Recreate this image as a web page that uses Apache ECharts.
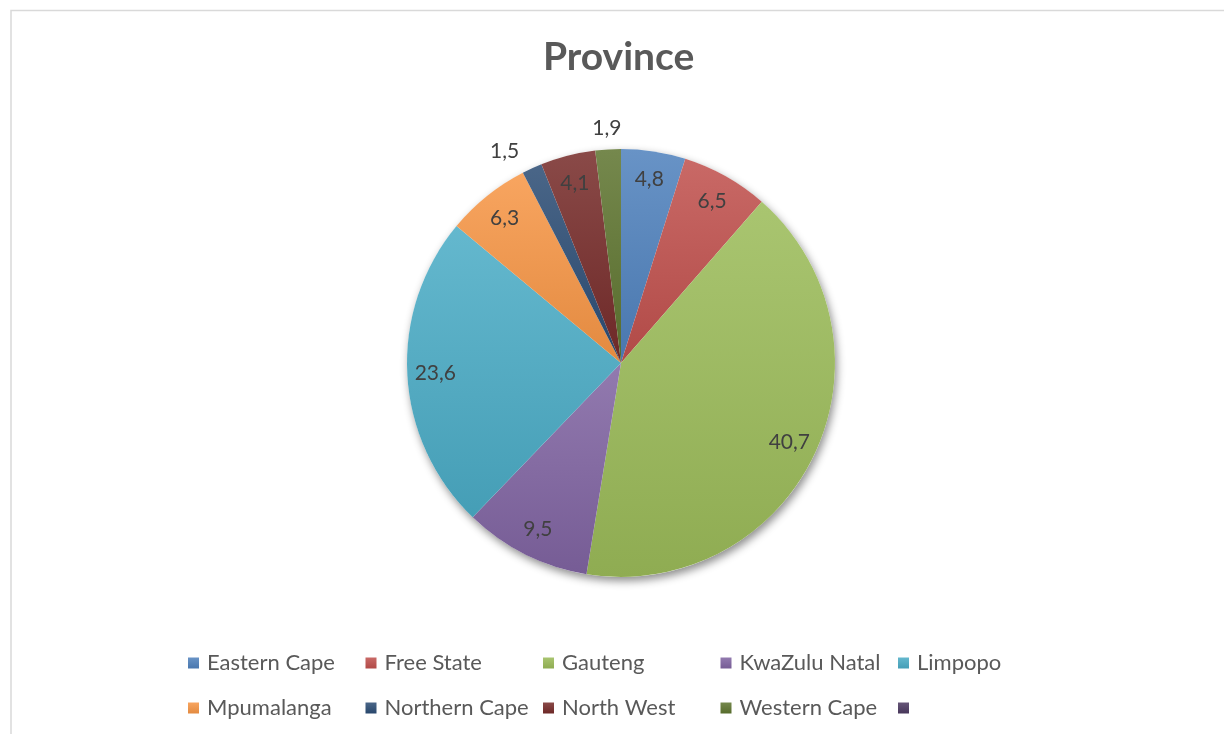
<!DOCTYPE html>
<html>
<head>
<meta charset="utf-8">
<script src="https://cdn.jsdelivr.net/npm/echarts@6/dist/echarts.min.js"></script>
<style>
  html, body { margin: 0; padding: 0; background: #ffffff; }
  #chart { width: 1224px; height: 734px; }
</style>
</head>
<body>
<div id="chart"></div>
<script>
// Province shares (%)
const provinces = ['Eastern Cape', 'Free State', 'Gauteng', 'KwaZulu Natal', 'Limpopo',
                   'Mpumalanga', 'Northern Cape', 'North West', 'Western Cape', ' '];
const shares = [4.8, 6.5, 40.7, 9.5, 23.6, 6.3, 1.5, 4.1, 1.9, 0];
const baseColors = ['#4F81BD', '#C0504D', '#9BBB59', '#8064A2', '#4BACC6',
                    '#F79646', '#2C4D75', '#772C2A', '#5F7530', '#4D3B62'];

const FONT = 'Lato, "Open Sans", sans-serif';
const CX = 621, CY = 363, R = 214;

function mix(hex, target, t) {
  const n = parseInt(hex.slice(1), 16);
  const ch = [(n >> 16) & 255, (n >> 8) & 255, n & 255].map(c => Math.round(c + (target - c) * t));
  return 'rgb(' + ch.join(',') + ')';
}
function gradient(hex) {
  return new echarts.graphic.LinearGradient(0, 0, 0, 1, [
    { offset: 0, color: mix(hex, 255, 0.14) },
    { offset: 1, color: mix(hex, 0, 0.08) }
  ]);
}
const fmt = v => String(v).replace('.', ',');

const sliceData = provinces.map((name, i) => ({
  name: name,
  value: shares[i],
  itemStyle: { color: gradient(baseColors[i]) }
}));

// transparent ring used to place the in-slice labels
const innerLabelData = provinces.map((name, i) => ({
  name: name,
  value: shares[i],
  label: { show: shares[i] > 0 && name !== 'Western Cape' && name !== 'Northern Cape' }
}));
// Northern Cape: label just past the rim
innerLabelData[6].label = { show: true, position: 'outside' };
// Western Cape: label above the rim
const outerLabelData = provinces.map((name, i) => ({
  name: name,
  value: shares[i],
  label: { show: name === 'Western Cape' }
}));

const labelStyle = {
  color: '#404040',
  fontFamily: FONT,
  fontSize: 21,
  formatter: p => fmt(p.value)
};

const legendCommon = {
  orient: 'horizontal',
  left: 188,
  padding: 0,
  itemWidth: 11,
  itemHeight: 11,
  itemGap: 5.5,
  icon: 'rect',
  selectedMode: false,
  textStyle: {
    color: '#595959', fontFamily: FONT, fontSize: 22,
    width: 153, lineHeight: 24, padding: [0, 0, 0, 3]
  }
};

const chart = echarts.init(document.getElementById('chart'), null, { renderer: 'canvas' });
chart.setOption({
  animation: false,
  backgroundColor: '#ffffff',
  title: {
    text: 'Province',
    left: 543,
    top: 33,
    padding: 0,
    textStyle: { color: '#595959', fontFamily: FONT, fontSize: 39, fontWeight: 'bold', lineHeight: 48 }
  },
  graphic: [{
    type: 'rect',
    shape: { x: 11, y: 10.5, width: 1400, height: 900 },
    style: { fill: 'none', stroke: '#d9d9d9', lineWidth: 1.5 },
    silent: true
  }],
  legend: [
    Object.assign({}, legendCommon, { top: 651, data: provinces.slice(0, 5) }),
    Object.assign({}, legendCommon, { top: 696, data: provinces.slice(5) })
  ],
  series: [
    {
      // soft drop shadow under the whole pie
      type: 'pie',
      silent: true,
      center: [CX, CY],
      radius: [0, R],
      label: { show: false },
      labelLine: { show: false },
      itemStyle: {
        color: '#ffffff',
        shadowBlur: 9,
        shadowOffsetX: 2,
        shadowOffsetY: 4,
        shadowColor: 'rgba(0,0,0,0.45)'
      },
      data: [{ name: '__shadow', value: 1 }]
    },
    {
      type: 'pie',
      center: [CX, CY],
      radius: [0, R],
      startAngle: 90,
      clockwise: true,
      silent: true,
      avoidLabelOverlap: false,
      label: { show: false },
      labelLine: { show: false },
      itemStyle: { borderWidth: 0 },
      data: sliceData
    },
    {
      type: 'pie',
      center: [CX, CY],
      radius: [152, R],
      startAngle: 90,
      clockwise: true,
      silent: true,
      avoidLabelOverlap: false,
      itemStyle: { color: 'rgba(0,0,0,0)' },
      label: Object.assign({ position: 'inside' }, labelStyle),
      labelLine: { show: false, length: 19, length2: 0 },
      data: innerLabelData
    },
    {
      type: 'pie',
      center: [CX, CY],
      radius: [R, 250],
      startAngle: 90,
      clockwise: true,
      silent: true,
      avoidLabelOverlap: false,
      itemStyle: { color: 'rgba(0,0,0,0)' },
      label: Object.assign({ position: 'inside' }, labelStyle),
      labelLine: { show: false },
      data: outerLabelData
    }
  ]
});
</script>
</body>
</html>
